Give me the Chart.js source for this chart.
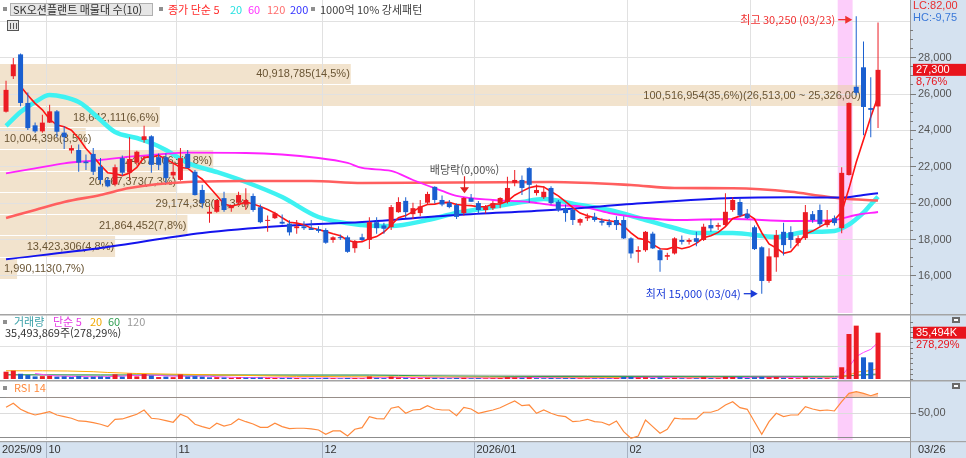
<!DOCTYPE html>
<html lang="ko">
<head>
<meta charset="utf-8">
<title>SK오션플랜트 일봉</title>
<script src="https://cdn.jsdelivr.net/npm/chart.js@4.4.1/dist/chart.umd.min.js"></script>
<style>
  html, body { margin: 0; padding: 0; background: #fff; overflow: hidden; }
  #wrap { position: relative; width: 966px; height: 458px; }
  canvas { position: absolute; left: 0; }
  #priceChart { top: 0; }
  #volChart { top: 314px; }
  #rsiChart { top: 380px; }
</style>
</head>
<body>
<div id="wrap">
  <canvas id="priceChart" width="966" height="314"></canvas>
  <canvas id="volChart" width="966" height="66"></canvas>
  <canvas id="rsiChart" width="966" height="78"></canvas>
</div>
<script>
// daily candles 2025/09 .. 2026/03/26
const opens = [25000,26950,28150,25480,24250,23920,24400,25020,23850,22870,
  22900,22260,22680,21980,21250,21000,22450,21650,22200,23450,
  23650,22500,22500,21500,21250,22680,21700,20700,19400,19500,
  20250,19700,20000,19900,20370,19750,19000,19150,18950,18850,
  18600,18700,18600,18550,18500,17950,18100,18100,17500,18100,
  17950,18930,18750,18660,19480,20100,19370,19430,20000,20870,
  20150,20000,19870,19430,20250,19980,19600,19700,19980,20040,
  21090,21250,21900,20530,20300,20810,20050,19700,19600,18900,
  19140,19230,19000,18950,19050,19050,18040,17300,17390,18300,
  17390,17030,17210,17950,17850,18050,17950,18770,18680,18770,
  19600,20040,19400,18650,17550,15700,17000,18400,18380,17790,
  18050,19370,19600,18770,19150,18600,21520,26370,27440,25200,
  25290];
const highs = [26700,27950,28200,26050,24400,24830,25380,25100,24200,23150,
  23200,22650,23000,22450,21400,22100,22600,23600,22850,24230,
  23700,22700,22700,22200,23000,22900,21800,20980,19800,20150,
  20600,19850,20600,20800,20500,19900,19300,19500,19350,19040,
  19050,18980,19050,18700,18600,18150,18250,18200,17950,18300,
  19200,19200,18900,19870,20300,20300,20000,20150,20600,20900,
  20400,20150,19950,20300,20480,20100,19870,20100,20300,21420,
  21800,21500,21950,21000,20900,20900,20150,19900,19700,19150,
  19400,19450,19150,19100,19250,19250,18100,17600,18450,18400,
  17500,17250,18100,18200,18050,18400,18850,19100,18900,20520,
  20300,20250,19650,18750,17600,17500,18500,18900,18700,18200,
  19870,19550,19900,19600,19300,21950,25500,30250,28860,26900,
  29900];
const lows = [24950,26800,25300,24000,23850,23850,24380,23600,22950,22700,
  21700,21800,21520,21000,20850,20900,21500,21250,22050,23300,
  21650,21800,21100,21300,21200,21900,20400,19700,18900,19450,
  19500,19500,19900,19600,19500,18870,18400,19100,18800,18200,
  18300,18500,18500,18350,17750,17800,17950,17250,17250,17900,
  17450,18300,18300,18500,19450,19150,19100,19250,19870,19950,
  19800,19700,19100,19300,20050,19400,19400,19600,19700,19950,
  20900,20420,19980,20400,20200,19900,19500,18950,18770,18750,
  19000,18950,18750,18650,18500,18000,16950,16700,17300,17450,
  16200,16850,17150,17700,17700,17600,17900,18400,18500,18700,
  19500,19200,19100,17400,15000,15600,16200,17100,17500,17600,
  17950,18900,18700,18650,18750,18320,21500,25900,23700,23600,
  24100];
const closes = [26200,27600,25480,24100,23920,24400,25020,23900,23600,23000,
  22200,22170,21700,21250,20900,21950,21650,22400,22800,23650,
  22080,22080,21350,21700,22450,21900,20420,19980,19500,20150,
  19600,19850,20420,20150,19600,18930,19050,19420,18850,18370,
  18700,18600,18500,18450,17800,18100,18050,17300,17900,17950,
  18930,18600,18570,19760,20040,19480,19700,19800,20480,20150,
  19900,19760,19220,20260,20050,19600,19760,19980,20260,20810,
  21250,20810,20980,20700,20600,19980,19600,19430,19050,19100,
  19230,19050,18900,18770,18770,18040,17210,17400,18400,17490,
  16840,17120,18040,17850,17950,17850,18680,18590,18770,19500,
  20150,19300,19150,17450,15700,17050,18220,17670,17950,18050,
  19480,19050,18820,19050,18880,21640,25480,26040,25260,25100,
  27300];
// volume, million shares
const volumes = [5.6,6.4,4.0,3.0,2.0,2.2,2.4,1.8,2.0,1.5,
  2.2,1.4,1.8,1.9,1.6,3.6,1.8,4.2,2.0,3.8,
  2.6,1.5,1.8,1.4,3.5,1.9,2.2,1.8,1.3,1.4,
  1.2,0.9,1.2,1.1,1.0,1.2,0.9,0.8,0.8,0.9,
  0.7,0.6,0.7,0.6,0.9,0.6,0.5,0.8,0.7,0.5,
  1.9,0.9,0.7,1.8,1.1,0.9,0.7,0.7,1.0,0.9,
  0.7,0.6,0.8,0.9,0.6,0.7,0.5,0.6,0.7,1.4,
  1.2,0.9,1.3,0.7,0.6,0.8,0.6,0.7,0.7,0.5,
  0.5,0.5,0.5,0.5,0.6,1.5,1.6,1.2,1.3,0.8,
  1.2,0.6,0.9,0.6,0.5,0.6,1.4,0.7,0.6,1.6,
  1.5,1.4,0.8,1.3,1.6,1.3,1.5,0.9,0.8,0.6,
  1.2,0.7,0.8,0.6,0.7,9.0,34.5,40.9,16.6,12.75,
  35.494];
const rsi14 = [57.5,62.5,55,50.8,47.9,50,52,47.9,45.8,43.8,
  40.4,40,38.3,36.3,33.3,42.5,42.9,45.8,48.8,54.1,
  43.8,42.9,40.8,38.8,48.8,45,36.3,33.3,30.8,37.5,
  34.1,36.3,42.9,39.5,36.6,32.5,32.5,37.5,33.3,30.8,
  31.3,31.3,30.4,29.1,23.8,27.9,27.9,21.6,30,32,
  45.8,43.3,42.9,56.3,58.3,50,54.1,55,59.5,55.4,
  54.1,54.1,47,57.5,55.4,50,52,54.1,57,61.3,
  65.4,59.5,60.4,50,54.1,50,47,45.8,39.5,40.4,
  42.5,39.5,38.8,35.4,40.4,27,18.8,21.6,41.6,33.3,
  25,30,43.8,42.9,42.9,42.9,51.3,51.3,54.1,60.4,
  64.5,57,55,39.5,23.8,39.5,50,45.8,47.9,47.9,
  58.3,55.4,53.3,54.1,52.9,64.5,75,77,75,72,
  75];

// moving averages read as [day index, price]
const ma5Start = [null, null, 26400, 25900];
const ma20 = [[0,24215],[2,24984],[4,25534],[6,25918],[8,25808],[10,25534],[11,25259],[13,24545],[15,23885],[18,23556],
  [20,23281],[22,22896],[25,22182],[29,21687],[33,21138],[38,20313],[43,19214],[49,18775],[53,18720],[58,19049],
  [62,19434],[67,19764],[71,20038],[74,20203],[79,19874],[83,19599],[88,19049],[92,18610],[95,18336],[100,18336],
  [106,18115],[110,18390],[114,18450],[116,18800],[117,19100],[118,19450],[119,19900],[120,20330]];
const ma60 = [[0,21616],[4,21890],[8,22165],[13,22346],[17,22528],[21,22660],[25,22748],[33,22731],[43,22456],[47,22182],
  [49,21907],[53,21742],[56,21247],[60,20650],[62,20380],[67,20148],[72,20038],[75,19874],[79,19800],[83,19434],
  [88,19159],[92,19049],[100,19104],[108,18994],[114,19049],[117,19324],[120,19489]];
const ma120 = [[0,19159],[4,19599],[8,20038],[13,20423],[17,20808],[25,21137],[33,21192],[42,21192],[49,21083],[75,21137],
  [86,20973],[92,20808],[100,20790],[108,20600],[112,20380],[115,20230],[120,20120]];
const ma200 = [[0,16890],[13,17511],[27,18335],[38,18720],[49,18940],[62,19324],[75,19599],[88,19984],[100,20258],[108,20300],
  [115,20280],[118,20420],[120,20520]];
// volume averages, [day index, million shares]
const volMa20 = [[0,6.3],[5,6.3],[12,5.6],[14,5.0],[18,4.2],[28,3.3],[40,2.0],[55,1.6],[70,1.2],[100,1.1],[114,1.2],
  [116,3.1],[117,5.1],[118,5.9],[119,6.5],[120,8.2]];
const volMa60 = [[0,3.3],[13,3.1],[50,3.0],[58,2.4],[75,1.9],[114,1.8],[116,2.5],[118,3.3],[120,3.8]];
const volMa120 = [[0,3.0],[60,3.0],[80,2.6],[114,2.3],[117,2.7],[120,3.1]];

const monthStarts = [0, 6, 24, 44, 65, 86, 103];
const monthLabels = ['2025/09', '10', '11', '12', '2026/01', '02', '03'];
const lastDate = '03/26';
const priceGrid = [16000, 18000, 20000, 22000, 24000, 26000, 28000, 30000];

// 매물대 (volume by price), top band first
const bandEdges = [27700, 26513, 25326, 24139, 22952, 21765, 20578, 19391, 18204, 17017, 15830];
const bandVolumes = [40918785, 100516954, 18642111, 10004396, 24870063, 20667373, 29174398, 21864452, 13423306, 1990113];
const bandPcts = [14.5, 35.6, 6.6, 3.5, 8.8, 7.3, 10.3, 7.8, 4.8, 0.7];

const patternDays = [115, 116];     // 1000억 10% 강세패턴
const dividendDay = 63;             // 배당락
const hiDate = '03/23', loDate = '03/04';
const volToday = 35493869, volRatio = 278.29;
const lcText = 'LC:82,00', hcText = 'HC:-9,75';

// ---- layout / style ----
const AXIS_W = 56, X_MIN = -0.83, X_MAX = 124.4;
const RED = '#ec1c24', BLUE = '#1a5fd0';
const STRIP = '#d5e2f0', GRID = '#e1e1e1', FRAME = '#9c9c9c';
const KR = '"Noto Sans CJK KR", "Noto Sans", sans-serif';
const NUM = '"Liberation Sans", "DejaVu Sans", sans-serif';

const idx = closes.map((c, i) => i);
const avg = a => a.reduce((s, v) => s + v, 0) / a.length;
const xy = (x, y) => ({x, y});
const pts = list => list.map(([i, v]) => xy(i, v));
const fmt = v => Math.round(v).toLocaleString('en-US');
const dec = (v, d) => v.toFixed(d).replace('.', ',');

const ma5 = idx.map(i => i < 4 ? ma5Start[i] : avg(closes.slice(i - 4, i + 1)));
const volMa5 = idx.map(i => i < 4 ? null : avg(volumes.slice(i - 4, i + 1)));
const candleColor = idx.map(i => closes[i] >= opens[i] ? RED : BLUE);
const volColor = idx.map(i => i === 0 || closes[i] >= closes[i - 1] ? RED : BLUE);

function maLine(data, color, width, order, smooth) {
  return {type: 'line', data, borderColor: color, borderWidth: width, pointRadius: 0, fill: false, order,
    cubicInterpolationMode: smooth ? 'monotone' : 'default', tension: 0};
}

function baseOptions(yMin, yMax, padding) {
  return {
    responsive: false, animation: false, events: [],
    layout: {padding},
    plugins: {legend: {display: false}, tooltip: {enabled: false}},
    scales: {
      x: {type: 'linear', min: X_MIN, max: X_MAX, offset: false, display: false},
      y: {type: 'linear', min: yMin, max: yMax, display: false}
    }
  };
}

// ---- drawing helpers ----
function seg(ctx, x0, y0, x1, y1) { ctx.beginPath(); ctx.moveTo(x0, y0); ctx.lineTo(x1, y1); ctx.stroke(); }
function monthLines(chart, y0, y1, color) {
  const {ctx, scales: {x}} = chart;
  ctx.strokeStyle = color; ctx.lineWidth = 1;
  monthStarts.slice(1).forEach(m => {
    const px = Math.round(x.getPixelForValue(m - 0.55)) + 0.5;
    seg(ctx, px, y0, px, y1);
  });
}
function patternBand(chart, y0, y1) {
  const {ctx, scales: {x}} = chart;
  const a = x.getPixelForValue(patternDays[0] - 0.55), b = x.getPixelForValue(patternDays[patternDays.length - 1] + 0.5);
  ctx.fillStyle = '#fccdfa';
  ctx.fillRect(a, y0, b - a, y1 - y0);
}
function rightStrip(chart, y1) {
  const {ctx, chartArea: a} = chart;
  ctx.fillStyle = STRIP; ctx.fillRect(a.right, 0, chart.width - a.right, y1);
}
function rightBorder(chart, y1) {
  const {ctx, chartArea: a} = chart;
  ctx.strokeStyle = FRAME; ctx.lineWidth = 1;
  seg(ctx, a.right + 0.5, 0, a.right + 0.5, y1);
}
function topSeparator(chart) {
  const {ctx} = chart;
  ctx.fillStyle = '#a4a4a4'; ctx.fillRect(0, 0, chart.width, 1.5);
}
function square(ctx, x, y) { ctx.fillStyle = '#8f8f8f'; ctx.fillRect(x, y - 2, 4, 4); }
function texts(ctx, list, y) { list.forEach(([t, c, px]) => { ctx.fillStyle = c; ctx.fillText(t, px, y); }); }
function panelIcon(ctx, x, y) {
  ctx.fillStyle = '#6a6a6a'; ctx.fillRect(x, y, 8, 6);
  ctx.fillStyle = '#fff'; ctx.fillRect(x + 2, y + 2, 4, 2);
}
function arrowRight(ctx, x0, x1, y, color) {
  ctx.strokeStyle = color; ctx.fillStyle = color; ctx.lineWidth = 1.3;
  seg(ctx, x0, y, x1 - 5, y);
  ctx.beginPath(); ctx.moveTo(x1, y); ctx.lineTo(x1 - 7, y - 4); ctx.lineTo(x1 - 7, y + 4); ctx.closePath(); ctx.fill();
}
function valueBox(ctx, chart, py, text, sub) {
  const a = chart.chartArea;
  ctx.fillStyle = '#e8141c'; ctx.fillRect(a.right + 3, py - 6, chart.width - a.right - 3, 12);
  ctx.font = '11px ' + NUM; ctx.textAlign = 'left'; ctx.textBaseline = 'middle';
  ctx.fillStyle = '#fff'; ctx.fillText(text, a.right + 6, py + 0.5);
  ctx.fillStyle = '#e8141c'; ctx.fillText(sub, a.right + 6, py + 12);
}

// ---- price panel ----
const priceDeco = {
  id: 'priceDeco',
  beforeDatasetsDraw(chart) {
    const {ctx, chartArea: a, scales: {x, y}} = chart;
    ctx.save();
    rightStrip(chart, chart.height);
    patternBand(chart, 0, a.bottom);
    // volume-by-price bands
    const maxV = Math.max(...bandVolumes), maxK = bandVolumes.indexOf(maxV);
    const full = (a.right - a.left) * 0.947;
    const widths = bandVolumes.map(v => v / maxV * full);
    ctx.fillStyle = 'rgba(234, 208, 172, 0.6)';
    bandVolumes.forEach((v, k) => {
      const y0 = y.getPixelForValue(bandEdges[k]), y1 = y.getPixelForValue(bandEdges[k + 1]);
      ctx.fillRect(a.left, Math.round(y0) + 1, widths[k], Math.round(y1) - Math.round(y0) - 1);
    });
    // grid
    ctx.strokeStyle = GRID; ctx.lineWidth = 1;
    priceGrid.forEach(p => { const py = Math.round(y.getPixelForValue(p)) + 0.5; seg(ctx, a.left, py, a.right, py); });
    monthLines(chart, 0, a.bottom, GRID);
    // band labels
    ctx.font = '11px ' + NUM; ctx.textBaseline = 'middle'; ctx.textAlign = 'left';
    ctx.fillStyle = '#6a5534';
    bandVolumes.forEach((v, k) => {
      let t = fmt(v) + '(' + dec(bandPcts[k], 1) + '%)';
      if (k === maxK) t += '(' + fmt(bandEdges[k]) + ',00 ~ ' + fmt(bandEdges[k + 1]) + ',00)';
      const tw = ctx.measureText(t).width;
      const cy = (y.getPixelForValue(bandEdges[k]) + y.getPixelForValue(bandEdges[k + 1])) / 2 + 1;
      ctx.fillText(t, Math.max(a.left + 4, a.left + widths[k] - tw - 1), cy);
    });
    ctx.restore();
  },
  afterDatasetsDraw(chart) {
    const {ctx, chartArea: a, scales: {x, y}} = chart;
    ctx.save();
    rightBorder(chart, chart.height);
    // right axis
    ctx.strokeStyle = '#7a7a7a'; ctx.lineWidth = 1;
    for (let p = 14000; p <= 31000; p += 500) {
      const py = Math.round(y.getPixelForValue(p)) + 0.5;
      if (py < a.top + 26 || py > a.bottom - 2) continue;
      seg(ctx, a.right, py, a.right + (p % 2000 === 0 ? 6 : 3), py);
    }
    ctx.font = '11px ' + NUM; ctx.textAlign = 'left'; ctx.textBaseline = 'middle'; ctx.fillStyle = '#555';
    priceGrid.filter(p => p < 30000).forEach(p => ctx.fillText(fmt(p), a.right + 8, y.getPixelForValue(p) + 0.5));
    ctx.fillStyle = '#e83030'; ctx.fillText(lcText, a.right + 3, 6);
    ctx.fillStyle = '#3a78d8'; ctx.fillText(hcText, a.right + 3, 18);
    const last = closes.length - 1;
    valueBox(ctx, chart, y.getPixelForValue(closes[last]), fmt(closes[last]),
      dec((closes[last] / closes[last - 1] - 1) * 100, 2) + '%');

    // high / low marks
    ctx.font = '11px ' + KR; ctx.textAlign = 'right';
    const hi = Math.max(...highs), hiI = highs.indexOf(hi);
    const hx = x.getPixelForValue(hiI) - 4, hy = y.getPixelForValue(hi) + 3.5;
    arrowRight(ctx, hx - 14, hx, hy, '#f03030');
    ctx.fillStyle = '#f03030'; ctx.fillText('최고 ' + fmt(hi) + ' (' + hiDate + ')', hx - 17, hy);
    const lo = Math.min(...lows), loI = lows.indexOf(lo);
    const lx = x.getPixelForValue(loI) - 4, ly = y.getPixelForValue(lo);
    arrowRight(ctx, lx - 14, lx, ly, '#1a3bd8');
    ctx.fillStyle = '#1a3bd8'; ctx.fillText('최저 ' + fmt(lo) + ' (' + loDate + ')', lx - 17, ly);

    // ex-dividend mark
    const dx = Math.round(x.getPixelForValue(dividendDay)) + 0.5, dy = y.getPixelForValue(highs[dividendDay]) - 4;
    ctx.strokeStyle = '#e02020'; ctx.fillStyle = '#e02020'; ctx.lineWidth = 1.2;
    seg(ctx, dx, dy - 17, dx, dy - 5);
    ctx.beginPath(); ctx.moveTo(dx, dy); ctx.lineTo(dx - 4.5, dy - 6); ctx.lineTo(dx + 4.5, dy - 6); ctx.closePath(); ctx.fill();
    ctx.textAlign = 'center'; ctx.fillStyle = '#505050';
    ctx.fillText('배당락(0,00%)', dx, dy - 23);

    // legend
    ctx.textAlign = 'left';
    square(ctx, 3, 9);
    ctx.fillStyle = '#e6e6e6'; ctx.fillRect(10.5, 3.5, 142, 12);
    ctx.strokeStyle = '#b0b0b0'; ctx.lineWidth = 1; ctx.strokeRect(10.5, 3.5, 142, 12);
    texts(ctx, [['SK오션플랜트 매물대 수(10)', '#303030', 13]], 10);
    square(ctx, 159, 9);
    texts(ctx, [['종가 단순 5', '#ff2a2a', 168], ['20', '#26e0e0', 230], ['60', '#ff33ff', 248],
      ['120', '#ff6c6c', 267], ['200', '#3333ff', 290]], 10);
    square(ctx, 311, 9);
    texts(ctx, [['1000억 10% 강세패턴', '#404040', 320]], 10);
    // small layout icon
    ctx.fillStyle = '#e4e4e4'; ctx.fillRect(7.5, 20.5, 11, 10);
    ctx.strokeStyle = '#555'; ctx.strokeRect(7.5, 20.5, 11, 10);
    [10.5, 13.5, 16.5].forEach(px => seg(ctx, px, 23, px, 29));
    ctx.restore();
  }
};

new Chart(document.getElementById('priceChart'), {
  type: 'line',
  data: {datasets: [
    {type: 'bar', data: idx.map(i => xy(i, [opens[i], closes[i]])), backgroundColor: candleColor,
      grouped: false, maxBarThickness: 5, minBarLength: 1, order: 1},
    {type: 'bar', data: idx.map(i => xy(i, [lows[i], highs[i]])), backgroundColor: candleColor,
      grouped: false, maxBarThickness: 1, order: 2},
    maLine(idx.map(i => xy(i, ma5[i])), '#ff1414', 1.6, 3, false),
    maLine(pts(ma200), '#1414ee', 2, 4, true),
    maLine(pts(ma60), '#ff22ff', 1.8, 5, true),
    maLine(pts(ma120), '#ff5f5f', 2.6, 6, true),
    maLine(pts(ma20), '#3ef2f2', 4.5, 7, true)
  ]},
  options: baseOptions(13939, 31138, {top: 0, right: AXIS_W, bottom: 1, left: 0}),
  plugins: [priceDeco]
});

// ---- volume panel ----
const volDeco = {
  id: 'volDeco',
  beforeDatasetsDraw(chart) {
    const {ctx, chartArea: a, scales: {y}} = chart;
    ctx.save();
    rightStrip(chart, chart.height);
    patternBand(chart, 0, chart.height);
    ctx.strokeStyle = GRID; ctx.lineWidth = 1;
    const gy = Math.round(y.getPixelForValue(25)) + 0.5;
    seg(ctx, a.left, gy, a.right, gy);
    monthLines(chart, 0, chart.height, GRID);
    ctx.restore();
  },
  afterDatasetsDraw(chart) {
    const {ctx, chartArea: a, scales: {y}} = chart;
    ctx.save();
    topSeparator(chart);
    rightBorder(chart, chart.height);
    ctx.strokeStyle = '#7a7a7a'; ctx.lineWidth = 1;
    for (let v = 0; v < 46; v += 4) {
      const py = Math.round(y.getPixelForValue(v)) + 0.5;
      seg(ctx, a.right, py, a.right + 3, py);
    }
    valueBox(ctx, chart, y.getPixelForValue(volumes[volumes.length - 1]),
      fmt(volToday / 1000) + 'K', dec(volRatio, 2) + '%');
    panelIcon(ctx, 952, 3);
    ctx.font = '11px ' + KR; ctx.textAlign = 'left'; ctx.textBaseline = 'middle';
    square(ctx, 3, 8);
    texts(ctx, [['거래량', '#3aa0a8', 14], ['단순 5', '#e53be5', 53], ['20', '#f0a800', 90],
      ['60', '#2f9e50', 108], ['120', '#9a9a9a', 127]], 8);
    texts(ctx, [[fmt(volToday) + '주(' + dec(volRatio, 2) + '%)', '#333', 5]], 19);
    ctx.restore();
  }
};

new Chart(document.getElementById('volChart'), {
  type: 'line',
  data: {datasets: [
    {type: 'bar', data: idx.map(i => xy(i, volumes[i])), backgroundColor: volColor,
      grouped: false, maxBarThickness: 5, order: 1},
    maLine(idx.map(i => xy(i, volMa5[i])), '#ff44ff', 1, 2, false),
    maLine(pts(volMa20), '#ffaa00', 1, 3, true),
    maLine(pts(volMa60), '#2f9e50', 1, 4, true),
    maLine(pts(volMa120), '#b4b4b4', 1, 5, true)
  ]},
  options: baseOptions(0, 49.06, {top: 1, right: AXIS_W, bottom: 1, left: 0}),
  plugins: [volDeco]
});

// ---- RSI panel ----
const rsiDeco = {
  id: 'rsiDeco',
  beforeDatasetsDraw(chart) {
    const {ctx, chartArea: a, scales: {y}} = chart;
    ctx.save();
    rightStrip(chart, chart.height);
    ctx.fillStyle = STRIP; ctx.fillRect(0, a.bottom + 1, chart.width, chart.height - a.bottom - 1);
    patternBand(chart, 0, a.bottom);
    monthLines(chart, 0, a.bottom, GRID);
    ctx.lineWidth = 1;
    [[70, '#8c8c8c'], [50, '#dcdcdc'], [20, '#8c8c8c']].forEach(([v, c]) => {
      ctx.strokeStyle = c;
      const py = Math.round(y.getPixelForValue(v)) + 0.5;
      seg(ctx, a.left, py, a.right, py);
    });
    ctx.restore();
  },
  afterDatasetsDraw(chart) {
    const {ctx, chartArea: a, scales: {x, y}} = chart;
    ctx.save();
    topSeparator(chart);
    ctx.fillStyle = '#a4a4a4'; ctx.fillRect(0, a.bottom + 1, chart.width, 1.2);
    rightBorder(chart, chart.height);
    panelIcon(ctx, 952, 3);
    // right axis label
    ctx.strokeStyle = '#7a7a7a'; ctx.lineWidth = 1;
    const py50 = Math.round(y.getPixelForValue(50)) + 0.5;
    seg(ctx, a.right, py50, a.right + 6, py50);
    ctx.font = '11px ' + NUM; ctx.textAlign = 'left'; ctx.textBaseline = 'middle'; ctx.fillStyle = '#555';
    ctx.fillText(dec(50, 2), a.right + 8, py50 - 1);
    // date axis
    const ty = (a.bottom + chart.height) / 2 + 1;
    ctx.strokeStyle = '#a7b2c2';
    monthStarts.forEach((m, k) => {
      const px = k === 0 ? a.left : Math.round(x.getPixelForValue(m - 0.55)) + 0.5;
      if (k > 0) seg(ctx, px, a.bottom + 2, px, chart.height);
      ctx.fillStyle = '#333';
      ctx.fillText(monthLabels[k], px + 2, ty);
    });
    ctx.fillText(lastDate, a.right + 8, ty);
    // legend
    ctx.font = '11px ' + KR;
    square(ctx, 3, 8);
    texts(ctx, [['RSI 14', '#ff8a3d', 14]], 8);
    ctx.restore();
  }
};

new Chart(document.getElementById('rsiChart'), {
  type: 'line',
  data: {datasets: [{
    data: idx.map(i => xy(i, rsi14[i])), borderColor: '#ff8a3d', borderWidth: 1.2, pointRadius: 0, tension: 0,
    fill: {target: {value: 70}, above: 'rgba(255, 170, 120, 0.55)', below: 'rgba(0, 0, 0, 0)'}
  }]},
  options: baseOptions(16.6, 90.4, {top: 1, right: AXIS_W, bottom: 18, left: 0}),
  plugins: [rsiDeco]
});
</script>
</body>
</html>
